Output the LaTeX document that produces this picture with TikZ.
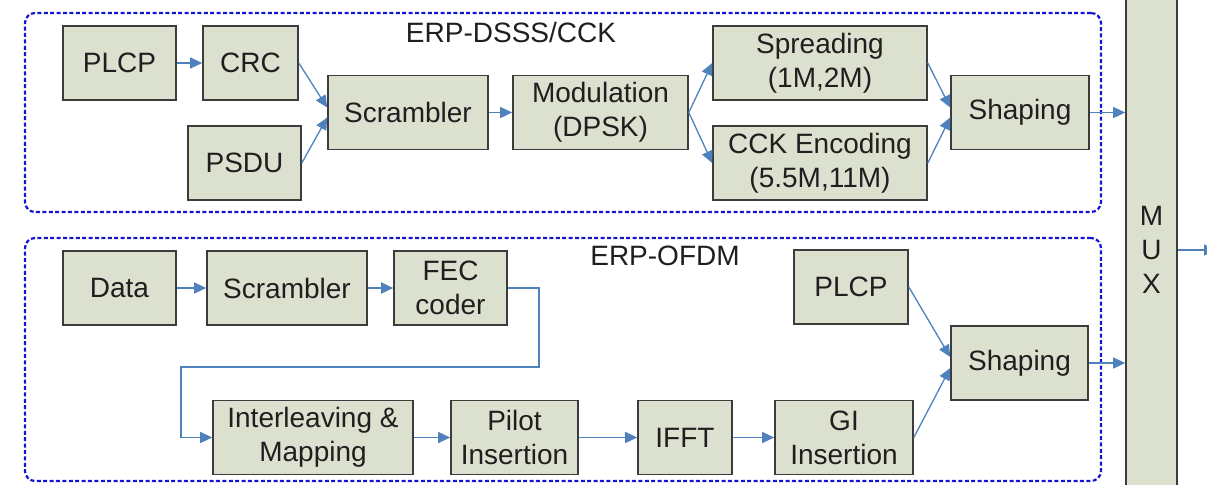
\documentclass[tikz,border=0pt]{standalone}
\usepackage{fontspec}
\setmainfont{Liberation Sans}
\usepackage{tikz}
\usetikzlibrary{arrows.meta, calc}
\definecolor{boxfill}{RGB}{220,225,207}
\definecolor{boxline}{RGB}{60,60,60}
\definecolor{flowblue}{RGB}{79,129,189}
\definecolor{groupblue}{RGB}{20,20,210}
\tikzstyle{blk} = [
  rectangle, draw=boxline, fill=boxfill, line width=0.8pt,
  minimum height=37pt, inner sep=0pt, align=center,
  text=black!88, font=\fontsize{14}{17}\selectfont
]
\tikzstyle{group} = [
  rectangle, draw=groupblue, line width=1.1pt, dash pattern=on 2pt off 1.2pt,
  rounded corners=5pt, inner sep=0pt
]
\tikzstyle{grouplabel} = [text=black!88, font=\fontsize{14}{17}\selectfont]
\tikzstyle{arrow} = [-{Triangle[length=6pt,width=5.5pt]}, draw=flowblue, line width=0.65pt]

\begin{document}
\begin{tikzpicture}[x=0.5pt, y=-0.5pt]
  \useasboundingbox (0,0) rectangle (1207,484);

  % Groups
  \node[group, minimum width=538pt, minimum height=99.5pt] (dsss) at (563, 112.5) {};
  \node[grouplabel] (dssslbl) at (511, 32) {ERP-DSSS/CCK};
  \node[group, minimum width=538pt, minimum height=121.5pt] (ofdm) at (563, 359.5) {};
  \node[grouplabel] (ofdmlbl) at (665, 256) {ERP-OFDM};

  % ERP-DSSS/CCK chain
  \node[blk, minimum width=56.5pt] (plcpA) at (119.5, 63) {PLCP};
  \node[blk, minimum width=47.5pt] (crc) at (250.5, 63) {CRC};
  \node[blk, minimum width=56.5pt] (psdu) at (244.5, 163) {PSDU};
  \node[blk, minimum width=80pt] (scrA) at (408, 112.5) {Scrambler};
  \node[blk, minimum width=87.5pt] (modu) at (600.5, 112.5) {Modulation\\(DPSK)};
  \node[blk, minimum width=107pt] (spread) at (820, 63) {Spreading\\(1M,2M)};
  \node[blk, minimum width=107pt] (cck) at (820, 163) {CCK Encoding\\(5.5M,11M)};
  \node[blk, minimum width=69pt] (shapeA) at (1020, 112.5) {Shaping};

  % MUX
  \node[blk, minimum width=25.5pt, minimum height=260pt] (mux) at (1151.5, 250) {M\\U\\X};
  \coordinate (out) at (1216, 250);

  % ERP-OFDM chain
  \node[blk, minimum width=56.5pt] (data) at (119.5, 288) {Data};
  \node[blk, minimum width=80pt] (scrB) at (287, 288) {Scrambler};
  \node[blk, minimum width=56.5pt] (fec) at (450.5, 288) {FEC\\coder};
  \node[blk, minimum width=57pt] (plcpB) at (851, 287) {PLCP};
  \node[blk, minimum width=100pt] (inter) at (313, 437.5) {Interleaving \&\\Mapping};
  \node[blk, minimum width=63.5pt] (pilot) at (514.5, 437.5) {Pilot\\Insertion};
  \node[blk, minimum width=47pt] (ifft) at (685, 437.5) {IFFT};
  \node[blk, minimum width=69pt] (gi) at (844, 437.5) {GI\\Insertion};
  \node[blk, minimum width=68.5pt] (shapeB) at (1019.5, 363) {Shaping};
  \coordinate (bendA) at (539, 367);
  \coordinate (bendB) at (181, 367);

  % Arrows
  \draw[arrow] (plcpA) -- (crc);
  \draw[arrow] (crc.east) -- ([yshift=2.5pt]scrA.west);
  \draw[arrow] (psdu.east) -- ([yshift=-2.5pt]scrA.west);
  \draw[arrow] (scrA) -- (modu);
  \draw[arrow] (modu.east) -- (spread.west);
  \draw[arrow] (modu.east) -- (cck.west);
  \draw[arrow] (spread.east) -- ([yshift=2.5pt]shapeA.west);
  \draw[arrow] (cck.east) -- ([yshift=-2.5pt]shapeA.west);
  \draw[arrow] (shapeA.east) -- (mux.west |- shapeA.east);
  \draw[arrow] (mux.east) -- (out);

  \draw[arrow] (data) -- (scrB);
  \draw[arrow] (scrB) -- (fec);
  \draw[arrow] (fec.east) -| (bendA) -- (bendB) |- (inter.west);
  \draw[arrow] (inter) -- (pilot);
  \draw[arrow] (pilot) -- (ifft);
  \draw[arrow] (ifft) -- (gi);
  \draw[arrow] (plcpB.east) -- ([yshift=3pt]shapeB.west);
  \draw[arrow] (gi.east) -- ([yshift=-2.5pt]shapeB.west);
  \draw[arrow] (shapeB.east) -- (mux.west |- shapeB.east);

\end{tikzpicture}
\end{document}
